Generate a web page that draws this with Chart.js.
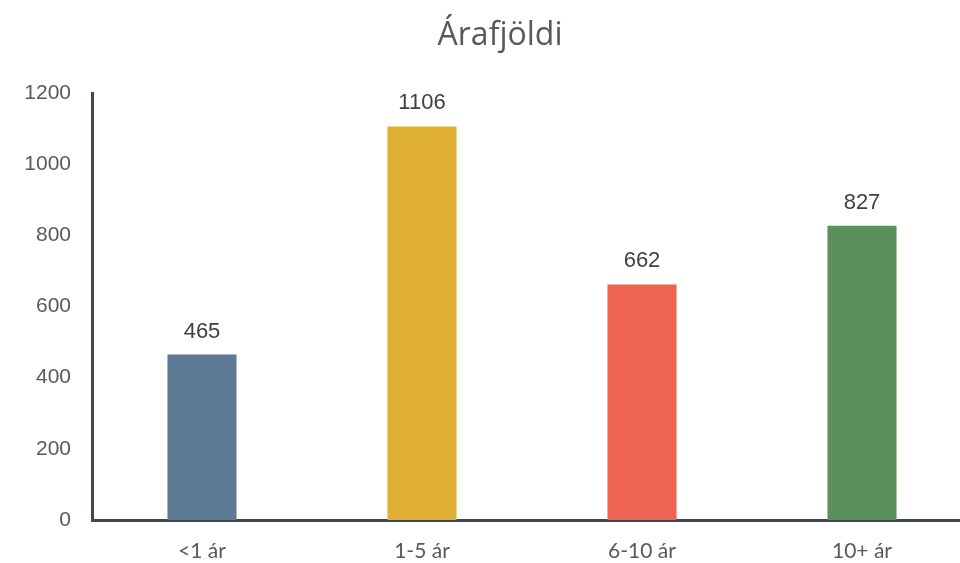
<!DOCTYPE html>
<html>
<head>
<meta charset="utf-8">
<script src="https://cdn.jsdelivr.net/npm/chart.js@4"></script>
<style>
  html, body { margin: 0; padding: 0; background: #fff; overflow: hidden; }
  #wrap { width: 972px; height: 563px; }
</style>
</head>
<body>
<div id="wrap"><canvas id="aldur" width="972" height="563"></canvas></div>
<script>
// Gögn
const titill = 'Árafjöldi';
const flokkar = ['<1 ár', '1-5 ár', '6-10 ár', '10+ ár'];
const fjoldi = [465, 1106, 662, 827];
const litir = ['#5e7b96', '#e0b034', '#ed6451', '#5b8f5c'];
const yTicks = [0, 200, 400, 600, 800, 1000, 1200];

// Titill og tölur ofan á súlum
const merkingar = {
    id: 'merkingar',
    afterDatasetsDraw(chart) {
        const ctx = chart.ctx;
        ctx.save();
        ctx.fillStyle = '#404040';
        ctx.font = '22px "Liberation Sans", Arial, sans-serif';
        ctx.textAlign = 'center';
        ctx.textBaseline = 'alphabetic';
        chart.getDatasetMeta(0).data.forEach((bar, i) => {
            ctx.fillText(fjoldi[i], bar.x, bar.y - 17);
        });
        ctx.fillStyle = '#595959';
        ctx.font = '32px "Open Sans", sans-serif';
        ctx.textBaseline = 'middle';
        ctx.fillText(titill, 500, 36);
        ctx.restore();
    }
};

new Chart('aldur', {
    type: 'bar',
    data: {
        labels: flokkar,
        datasets: [{
            data: fjoldi,
            backgroundColor: litir,
            barPercentage: 0.314,
            categoryPercentage: 1
        }]
    },
    options: {
        responsive: false,
        animation: false,
        layout: { padding: { top: 93, left: 0, right: 0, bottom: 0 } },
        plugins: {
            legend: { display: false },
            tooltip: { enabled: false }
        },
        scales: {
            x: {
                grid: { display: false, drawTicks: false },
                border: { display: true, color: '#3c4858', width: 3 },
                ticks: {
                    color: '#595959',
                    padding: 19,
                    font: { size: 21, family: 'Lato, sans-serif' }
                },
                afterFit(scale) { scale.height = 43; }
            },
            y: {
                min: 0,
                max: 1200,
                grid: { display: false, drawTicks: false },
                border: { display: true, color: '#3c4858', width: 3 },
                afterBuildTicks(scale) { scale.ticks = yTicks.map(v => ({ value: v })); },
                ticks: {
                    color: '#595959',
                    padding: 21,
                    font: { size: 21, family: '"Liberation Sans", Arial, sans-serif' },
                    callback: v => String(v)
                },
                afterFit(scale) { scale.width = 92; }
            }
        }
    },
    plugins: [merkingar]
});
</script>
</body>
</html>
